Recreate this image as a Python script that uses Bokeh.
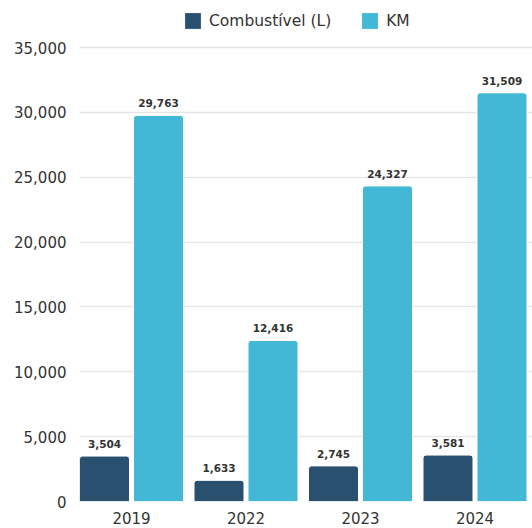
from bokeh.plotting import figure
from bokeh.models import ColumnDataSource, Range1d, FixedTicker, NumeralTickFormatter, Legend, LegendItem
from bokeh.transform import dodge
from bokeh.core.properties import value
from bokeh.embed import file_html
from bokeh.resources import INLINE

years = ["2019", "2022", "2023", "2024"]
combustivel = [3504, 1633, 2745, 3581]
km = [29763, 12416, 24327, 31509]
y_ticks = [0, 5000, 10000, 15000, 20000, 25000, 30000, 35000]

DARK = "#2a5070"
LIGHT = "#42b7d6"
FONT = "DejaVu Sans"
TXT = "#333333"

xs = [i + 0.5 for i in range(len(years))]
src = ColumnDataSource(dict(
    x=xs,
    comb=combustivel,
    km=km,
    comb_lbl=[f"{v:,}" for v in combustivel],
    km_lbl=[f"{v:,}" for v in km],
))

band_px = 114.5
frame_w = 453
x_start = 0.5 - 52 / band_px
x_end = x_start + frame_w / band_px

p = figure(width=532, height=528, output_backend="svg", toolbar_location=None,
           x_range=Range1d(x_start, x_end), y_range=Range1d(0, 38007),
           min_border_left=79, min_border_right=0, min_border_top=8, min_border_bottom=27)
p.outline_line_color = None
p.background_fill_color = "white"
p.border_fill_color = "white"

off = 27 / band_px
bw = 50 / band_px
r1 = p.vbar(x=dodge("x", -off, range=p.x_range), top="comb", width=bw, source=src,
            fill_color=DARK, line_color="white", line_width=1, border_radius=(3, 3, 0, 0))
r2 = p.vbar(x=dodge("x", off, range=p.x_range), top="km", width=bw, source=src,
            fill_color=LIGHT, line_color="white", line_width=1, border_radius=(3, 3, 0, 0))

for col, lbl, o in (("comb", "comb_lbl", -off), ("km", "km_lbl", off)):
    p.text(x=dodge("x", o, range=p.x_range), y=col, text=lbl, source=src,
           text_align="center", text_baseline="bottom", y_offset=-8,
           text_font=value(FONT), text_font_size="10.5px", text_font_style="bold",
           text_color=TXT)

# axes
p.yaxis.ticker = FixedTicker(ticks=y_ticks)
p.yaxis.formatter = NumeralTickFormatter(format="0,0")
p.yaxis.axis_line_color = None
p.yaxis.major_tick_line_color = None
p.yaxis.minor_tick_line_color = None
p.yaxis.major_tick_out = 0
p.yaxis.major_label_standoff = 13
p.yaxis.major_label_text_font = FONT
p.yaxis.major_label_text_font_size = "15px"
p.yaxis.major_label_text_color = TXT

p.xaxis.ticker = FixedTicker(ticks=xs)
p.xaxis.major_label_overrides = {x: y for x, y in zip(xs, years)}
p.xaxis.axis_line_color = None
p.xaxis.major_tick_line_color = None
p.xaxis.minor_tick_line_color = None
p.xaxis.major_tick_out = 0
p.xaxis.major_label_standoff = 10
p.xaxis.major_label_text_font = FONT
p.xaxis.major_label_text_font_size = "15px"
p.xaxis.major_label_text_color = TXT

p.xgrid.visible = False
p.ygrid.grid_line_color = "#e6e6e6"
p.ygrid.grid_line_width = 1.5

legend = Legend(items=[LegendItem(label="Combustível (L)", renderers=[r1]),
                       LegendItem(label="KM", renderers=[r2])],
                location=(103, 470), orientation="horizontal",
                padding=0, margin=0, spacing=28, label_standoff=6,
                glyph_width=21, glyph_height=21, label_height=21,
                label_text_font=FONT, label_text_font_size="15.5px", label_text_color=TXT,
                background_fill_alpha=0, border_line_color=None)
p.add_layout(legend)

open("out.html", "w").write(file_html(p, INLINE))
